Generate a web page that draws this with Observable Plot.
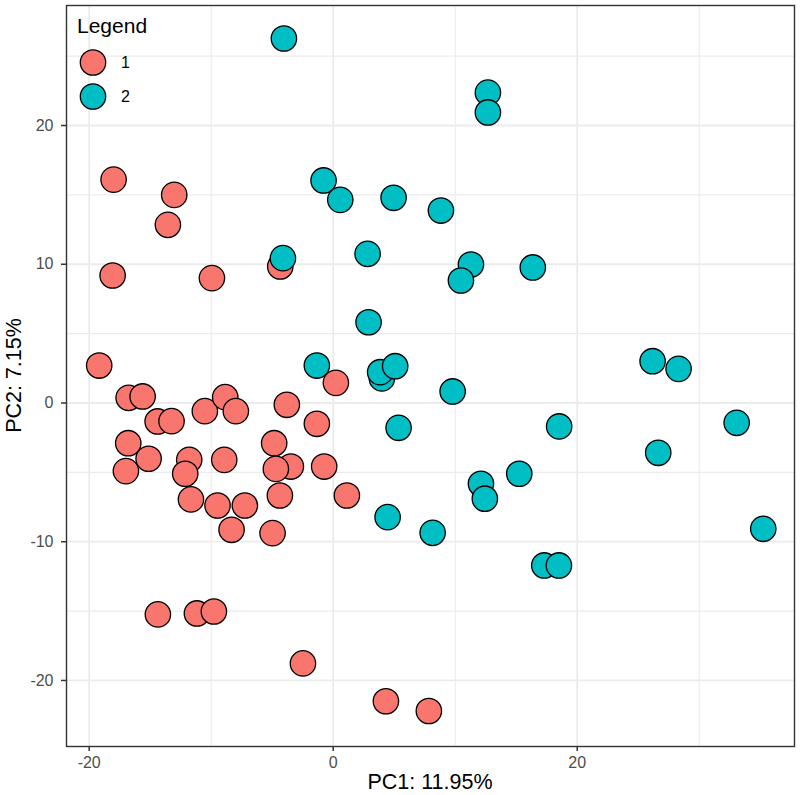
<!DOCTYPE html>
<html><head><meta charset="utf-8">
<script src="https://cdn.jsdelivr.net/npm/d3@7"></script>
<script src="https://cdn.jsdelivr.net/npm/@observablehq/plot@0.6"></script>
<style>
body{margin:0;background:#fff;}
#wrap{position:relative;width:800px;height:795px;}
</style></head><body><div id="wrap"></div>
<script>
// PCA scores, in drawing order
const pc1 = [-1.34,
  -18.0, -13.03, -13.55, -18.08, -9.94, -4.34, -19.18, -16.77, -15.62, -14.39,
  -13.25, -10.52, -8.85, -7.98, -3.8, -1.34, 0.22, -16.8, -15.13, -16.99,
  -11.8, -12.13, -8.93, -4.84, -3.47, -4.7, -0.74, -11.66, -9.48, -7.24,
  -4.37, 1.12, -8.33, -4.97, -14.37, -11.17, -9.78, -2.48, 4.32, 7.84,
  -4.04, 12.68, 12.68, -0.79, 0.58, 4.95, 8.83, 2.82, 11.29, 10.47, 16.36,
  -4.12, 2.9, 3.99, 3.85, 5.08, 9.79, 26.18, 28.31, 5.36, 18.52, 33.07,
  26.64, 15.25, 12.11, 12.43, 4.46, 8.15, 35.25, 17.3, 18.5];
const pc2 = [2.70,
  16.1, 15.0, 12.84, 9.19, 9.0, 9.84, 2.70, 0.37, 0.47, -1.33,
  -1.31, -0.59, 0.42, -0.59, -0.13, -1.5, 1.45, -2.9, -4.02, -4.91,
  -4.1, -5.1, -4.1, -2.9, -4.58, -4.75, -4.58, -6.95, -7.39, -7.39,
  -6.67, -6.67, -9.14, -9.38, -15.24, -15.17, -15.03, -18.77, -21.5, -22.2,
  26.27, 22.37, 20.94, 16.04, 14.64, 14.79, 13.87, 10.75, 9.98, 8.83, 9.77,
  10.44, 5.82, 1.77, 2.22, 2.65, 0.83, 3.01, 2.46, -1.79, -1.69, -1.43,
  -3.59, -5.1, -5.82, -6.9, -8.23, -9.36, -9.07, -11.71, -11.71];
const group = ["2",
  "1","1","1","1","1","1","1","1","1","1",
  "1","1","1","1","1","1","1","1","1","1",
  "1","1","1","1","1","1","1","1","1","1",
  "1","1","1","1","1","1","1","1","1","1",
  "2","2","2","2","2","2","2","2","2","2","2",
  "2","2","2","2","2","2","2","2","2","2","2",
  "2","2","2","2","2","2","2","2","2"];
const groupNames = ["1", "2"];
const groupColors = ["#F8766D", "#00BFC4"];
const xTicks = [-20, 0, 20];
const xMinor = [-10, 10, 30];
const yTicks = [-20, -10, 0, 10, 20];
const yMinor = [-15, -5, 5, 15, 25];
const xTitle = "PC1: 11.95%";
const yTitle = "PC2: 7.15%";
const legendTitle = "Legend";

const FONT = '"Liberation Sans", Arial, Helvetica, sans-serif';
const data = pc1.map((x, i) => ({pc1: x, pc2: pc2[i], group: group[i]}));

const W = 800, H = 795, mL = 66, mR = 6, mT = 5, mB = 49;
const plot = Plot.plot({
  width: W, height: H,
  marginLeft: mL, marginRight: mR, marginTop: mT, marginBottom: mB,
  style: {fontFamily: FONT, fontSize: "16px", background: "#fff", color: "#4d4d4d"},
  x: {domain: [-21.86, 37.81]},
  y: {domain: [-24.76, 28.65]},
  color: {domain: groupNames, range: groupColors},
  marks: [
    Plot.gridX(xMinor, {stroke: "#ebebeb", strokeOpacity: 1, strokeWidth: 1.1}),
    Plot.gridY(yMinor, {stroke: "#ebebeb", strokeOpacity: 1, strokeWidth: 1.1}),
    Plot.gridX(xTicks, {stroke: "#ebebeb", strokeOpacity: 1, strokeWidth: 1.8}),
    Plot.gridY(yTicks, {stroke: "#ebebeb", strokeOpacity: 1, strokeWidth: 1.8}),
    Plot.dot(data, {x: "pc1", y: "pc2", fill: "group", stroke: "#000", strokeWidth: 1.3, r: 12.7}),
    Plot.frame({stroke: "#333", strokeWidth: 1.4}),
    Plot.axisX(xTicks, {tickSize: 5, tickPadding: 5, tickFormat: d => String(d), label: null,
      stroke: "#333", fill: "#4d4d4d", strokeWidth: 1.5, fontSize: "16px"}),
    Plot.axisY(yTicks, {tickSize: 5, tickPadding: 8, tickFormat: d => String(d), label: null,
      stroke: "#333", fill: "#4d4d4d", strokeWidth: 1.5, fontSize: "16px"})
  ]
});
document.getElementById("wrap").appendChild(plot);

const svg = d3.select(plot);
// axis titles
svg.append("text").attr("x", mL + (W - mL - mR) / 2).attr("y", 789)
  .attr("text-anchor", "middle").attr("fill", "#000")
  .style("font-family", FONT).style("font-size", "21.5px").text(xTitle);
svg.append("text").attr("transform", `translate(21,${mT + (H - mT - mB) / 2}) rotate(-90)`)
  .attr("text-anchor", "middle").attr("fill", "#000")
  .style("font-family", FONT).style("font-size", "21.5px").text(yTitle);
// legend
const lg = svg.append("g").attr("text-anchor", "start");
lg.append("text").attr("x", 77).attr("y", 33).attr("fill", "#000")
  .style("font-family", FONT).style("font-size", "21px").text(legendTitle);
groupNames.forEach((g, i) => {
  const cy = 62.5 + i * 34;
  lg.append("circle").attr("cx", 93).attr("cy", cy).attr("r", 12.7)
    .attr("fill", groupColors[i]).attr("stroke", "#000").attr("stroke-width", 1.3);
  lg.append("text").attr("x", 121).attr("y", cy).attr("dy", "0.35em").attr("fill", "#000")
    .style("font-family", FONT).style("font-size", "16px").text(g);
});
</script></body></html>
